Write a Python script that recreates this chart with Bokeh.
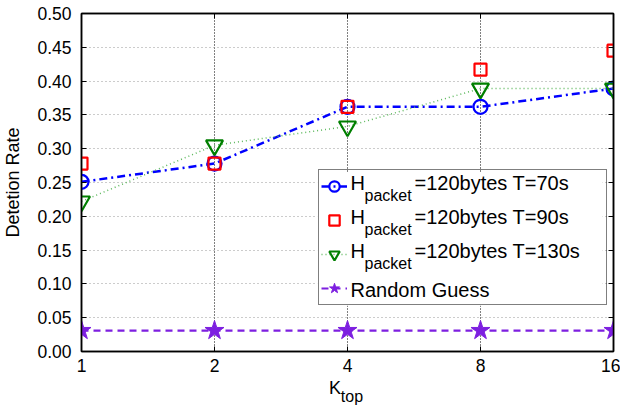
from bokeh.plotting import figure
from bokeh.models import (Range1d, FixedTicker, PrintfTickFormatter, Legend, LegendItem,
                          Label, LinearAxis, LogAxis, BoxAnnotation)
from bokeh.embed import file_html
from bokeh.resources import INLINE

k_top = [1, 2, 4, 8, 16]
rate_t70 = [0.251, 0.278, 0.362, 0.362, 0.389]
rate_t90 = [0.278, 0.278, 0.362, 0.417, 0.445]
rate_t130 = [0.222, 0.305, 0.333, 0.389, 0.389]
rate_random = [0.031, 0.031, 0.031, 0.031, 0.031]
y_ticks = [0.0, 0.05, 0.10, 0.15, 0.20, 0.25, 0.30, 0.35, 0.40, 0.45, 0.50]

FONT = "Liberation Sans"
NB = "\u00a0"
W, H = 620, 407
BL, BR, BT, BB = 78, 7, 13, 55
p = figure(width=W, height=H, output_backend="svg", toolbar_location=None,
           x_axis_type="log", x_range=Range1d(1, 16), y_range=Range1d(0, 0.5),
           min_border_left=BL, min_border_right=BR, min_border_top=BT, min_border_bottom=BB)
p.background_fill_color = "white"
p.border_fill_color = "white"
p.outline_line_color = "black"
p.outline_line_width = 1.5

# extra axes: box ticks on right/top, and one below carrying the subscript of the x label
p.add_layout(LinearAxis(), "right")
p.add_layout(LogAxis(), "above")
sub_axis = LogAxis(ticker=FixedTicker(ticks=[]))
p.add_layout(sub_axis, "below")

for ax in p.xaxis:
    ax.ticker = FixedTicker(ticks=k_top)
    ax.formatter = PrintfTickFormatter(format="%d")
    ax.major_label_standoff = 7
for ax in p.yaxis:
    ax.ticker = FixedTicker(ticks=y_ticks)
    ax.formatter = PrintfTickFormatter(format="%.2f")
    ax.major_label_standoff = 10
for ax in p.axis:
    ax.axis_line_color = "black"
    ax.axis_line_width = 1.5
    ax.major_tick_in = 5
    ax.major_tick_out = 0
    ax.minor_tick_line_color = None
    ax.major_tick_line_color = "black"
    ax.major_tick_line_width = 1
    ax.major_label_text_font = FONT
    ax.major_label_text_font_size = "17.5px"
    ax.major_label_text_color = "black"
    ax.axis_label_text_font = FONT
    ax.axis_label_text_font_size = "18px"
    ax.axis_label_text_font_style = "normal"
    ax.axis_label_text_color = "black"

for ax in (p.right[0], p.above[0]):
    ax.major_label_text_font_size = "0px"
    ax.major_label_text_color = None
    ax.major_label_standoff = 0

sub_axis.ticker = FixedTicker(ticks=[])
sub_axis.axis_line_color = None
sub_axis.major_tick_line_color = None
sub_axis.major_label_text_font_size = "0px"
sub_axis.major_label_standoff = 0

p.yaxis[0].axis_label = "Detetion Rate"
p.yaxis[0].axis_label_standoff = 11
main_x = p.below[0]
main_x.axis_label = "K" + NB * 5
main_x.axis_label_standoff = 3
sub_axis.axis_label = NB * 2 + "top"
sub_axis.axis_label_text_font_size = "16px"
sub_axis.axis_label_standoff = -13

p.xgrid.grid_line_color = "black"
p.xgrid.grid_line_dash = "1 2"
p.xgrid.grid_line_width = 1
p.ygrid.grid_line_color = "#999999"
p.ygrid.grid_line_dash = "1 3"
p.ygrid.grid_line_width = 1

blue, red, green, green_l, purple = "#0000ff", "#ff0000", "#007f00", "#5cb85c", "#7d1fe0"

l1 = p.line(k_top, rate_t70, line_color=blue, line_width=2.5, line_dash="8 4 2 4")
s1 = p.scatter(k_top, rate_t70, marker="circle", size=14, fill_color=None,
               line_color=blue, line_width=2.2)
l2 = p.line([], [], line_color=red, line_width=2)
s2 = p.scatter(k_top, rate_t90, marker="square", size=12, fill_color=None,
               line_color=red, line_width=2.2)
l3 = p.line(k_top, rate_t130, line_color=green_l, line_width=1.5, line_dash="1 3")
s3 = p.scatter(k_top, rate_t130, marker="inverted_triangle", size=17, fill_color=None,
               line_color=green, line_width=2.2)
l4 = p.line(k_top, rate_random, line_color=purple, line_width=2.2, line_dash="7 5")
s4 = p.scatter(k_top, rate_random, marker="star", size=20, fill_color=purple,
               line_color=purple, line_width=1)

# legend geometry (frame pixels from bottom-left)
LG_X, LG_Y = 237, 46
PAD, SP, ROW, GW, STAND, LW = 2, 6, 28, 26, 4, 253
LG_W = 2 * PAD + GW + STAND + LW
LG_H = 2 * PAD + 4 * ROW + 3 * SP

# white backing for the (transparent) legend, converted from frame pixels to data units
FW = W - BL - BR
FH = H - BT - BB
px_per_doubling = FW / 4.0
p.add_layout(BoxAnnotation(left=2 ** (LG_X / px_per_doubling),
                           right=2 ** ((LG_X + LG_W) / px_per_doubling),
                           bottom=0.5 * LG_Y / FH, top=0.5 * (LG_Y + LG_H) / FH,
                           fill_color="white", fill_alpha=1.0, line_color=None))

legend = Legend(items=[
    LegendItem(label=" ", renderers=[l1, s1]),
    LegendItem(label=" ", renderers=[l2, s2]),
    LegendItem(label=" ", renderers=[l3, s3]),
    LegendItem(label=" ", renderers=[l4, s4]),
], location=(LG_X, LG_Y), border_line_color="black", border_line_width=1.5,
    background_fill_alpha=0.0, padding=PAD, spacing=SP, glyph_height=ROW, label_height=ROW,
    glyph_width=GW, label_width=LW, label_standoff=STAND, margin=0,
    label_text_font_size="19px", label_text_font=FONT)
p.add_layout(legend, "center")

# legend texts (frame-relative screen coordinates)
row_c = [LG_Y + LG_H - PAD - ROW / 2 - i * (ROW + SP) for i in range(4)]
tx = LG_X + PAD + GW + STAND
names = ["=120bytes T=70s", "=120bytes T=90s", "=120bytes T=130s"]
for i, nm in enumerate(names):
    p.add_layout(Label(x=tx, y=row_c[i] + 5, x_units="screen", y_units="screen", text="H",
                       text_font=FONT, text_font_size="20px", text_baseline="middle",
                       text_color="black", level="overlay"))
    p.add_layout(Label(x=tx + 14, y=row_c[i] - 8, x_units="screen", y_units="screen",
                       text="packet", text_font=FONT, text_font_size="16px",
                       text_baseline="middle", text_color="black", level="overlay"))
    p.add_layout(Label(x=tx + 64, y=row_c[i] + 5, x_units="screen", y_units="screen", text=nm,
                       text_font=FONT, text_font_size="20px", text_baseline="middle",
                       text_color="black", level="overlay"))
p.add_layout(Label(x=tx, y=row_c[3], x_units="screen", y_units="screen", text="Random Guess",
                   text_font=FONT, text_font_size="20px", text_baseline="middle",
                   text_color="black", level="overlay"))

open("out.html", "w").write(file_html(p, INLINE))
